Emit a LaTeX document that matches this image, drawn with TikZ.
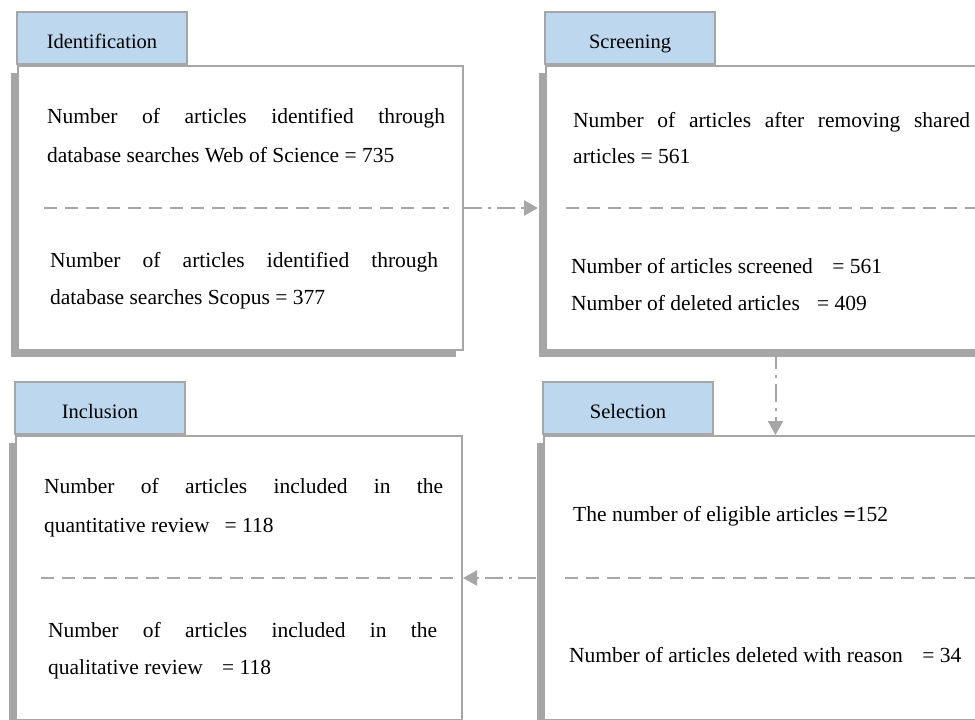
\documentclass[tikz,border=0pt]{standalone}
\usepackage{fontspec}
\setmainfont{Liberation Serif}
\usetikzlibrary{arrows.meta,shadows}
\definecolor{tabblue}{HTML}{BDD7EE}
\definecolor{linegray}{HTML}{A6A6A6}

\begin{document}
\begin{tikzpicture}[x=1pt, y=-1pt,
    panel/.style={rectangle, draw=linegray, line width=2pt, fill=white, minimum height=284pt, inner sep=0pt,
        drop shadow={shadow xshift=-7pt, shadow yshift=-7pt, fill=linegray, opacity=1}},
    tab/.style={rectangle, draw=linegray, line width=2pt, fill=tabblue, minimum width=170pt, minimum height=52pt,
        inner sep=0pt, text height=21pt, text depth=0pt, font=\fontsize{20.5}{24}\selectfont},
    txt/.style={anchor=base west, inner sep=0pt, font=\fontsize{21.5}{26}\selectfont},
    divider/.style={draw=linegray, line width=2pt, dash pattern=on 13pt off 8pt},
    flow/.style={draw=linegray, line width=2pt, dash pattern=on 18pt off 6pt on 3pt off 6pt,
        -{Triangle[width=15pt,length=14pt]}}]

    \clip (0,0) rectangle (975,720);

    % Panels
    \node[panel, minimum width=445pt] (idbox) at (240.5,208) {};
    \node[panel, minimum width=459pt] (scrbox) at (775.5,208) {};
    \node[panel, minimum width=446pt] (incbox) at (239,578) {};
    \node[panel, minimum width=459pt] (selbox) at (773.5,578) {};

    % Tabs
    \node[tab, anchor=south west] (idtab) at ([xshift=-1pt]idbox.north west) {Identification};
    \node[tab, anchor=south west] (scrtab) at ([xshift=-1pt]scrbox.north west) {Screening};
    \node[tab, anchor=south west] (inctab) at ([xshift=-1pt]incbox.north west) {Inclusion};
    \node[tab, anchor=south west] (seltab) at ([xshift=-1pt]selbox.north west) {Selection};

    % Dividers
    \draw[divider] ([xshift=27pt]idbox.west) -- ([xshift=-15pt]idbox.east);
    \draw[divider] ([xshift=21pt]scrbox.west) -- (scrbox.east);
    \draw[divider] ([xshift=26pt]incbox.west) -- ([xshift=-7pt]incbox.east);
    \draw[divider] ([xshift=22pt]selbox.west) -- (selbox.east);

    % Identification
    \node[txt] (idwos1) at (47,123) {\makebox[398pt][s]{Number of articles identified through}};
    \node[txt] (idwos2) at (47,162) {database searches Web of Science = 735};
    \node[txt] (idsco1) at (50,267) {\makebox[388pt][s]{Number of articles identified through}};
    \node[txt] (idsco2) at (50,304) {database searches Scopus = 377};

    % Screening
    \node[txt] (scrdup1) at (573,127) {\makebox[397pt][s]{Number of articles after removing shared}};
    \node[txt] (scrdup2) at (573,163) {articles = 561};
    \node[txt] (scrall) at (571,273) {Number of articles screened\hspace{0.9em}= 561};
    \node[txt] (scrdel) at (571,310) {Number of deleted articles\hspace{0.8em}= 409};

    % Inclusion
    \node[txt] (incqn1) at (44,493) {\makebox[399pt][s]{Number of articles included in the}};
    \node[txt] (incqn2) at (44,532) {quantitative review\hspace{0.7em}= 118};
    \node[txt] (incql1) at (48,637) {\makebox[389pt][s]{Number of articles included in the}};
    \node[txt] (incql2) at (48,674) {qualitative review\hspace{0.9em}= 118};

    % Selection
    \node[txt] (selok) at (573,521) {The number of eligible articles \textbf{=}152};
    \node[txt] (seldel) at (569,662) {Number of articles deleted with reason\hspace{0.9em}= 34};

    % Flow
    \draw[flow] (idbox.east) -- ([xshift=-7pt]scrbox.west);
    \draw[flow] (scrbox.south) -- (scrbox.south |- selbox.north);
    \draw[flow] ([xshift=-7pt]selbox.west) -- (incbox.east);
\end{tikzpicture}
\end{document}
